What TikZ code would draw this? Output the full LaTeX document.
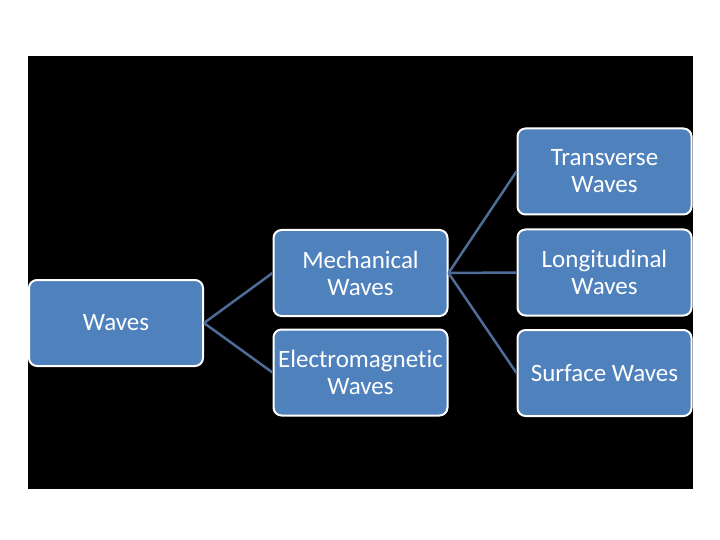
\documentclass[tikz,border=0pt]{standalone}
\usepackage{fontspec}
\setmainfont{Carlito}[Ligatures={NoCommon}]
\usetikzlibrary{positioning}
\definecolor{boxblue}{RGB}{79,129,189}
\definecolor{linkblue}{RGB}{79,108,152}

\begin{document}
\begin{tikzpicture}[x=1pt, y=-1pt,
  item/.style={rectangle, rounded corners=8pt, draw=white, line width=2pt,
               fill=boxblue, text=white, align=center,
               minimum width=174pt, minimum height=86pt, inner sep=1pt,
               font=\fontsize{25}{27}\selectfont},
  link/.style={line width=2.5pt, linkblue}
]
  % page and dark backdrop
  \useasboundingbox (0,0) rectangle (720,540);
  \fill[white] (0,0) rectangle (720,540);
  \fill[black] (28,56) rectangle (693,489);

  % boxes
  \node[item] (waves) at (116, 323)   {Waves};
  \node[item] (mech)  at (360.5, 273) {Mechanical\\Waves};
  \node[item] (em)    at (360.5, 372.5) {Electromagnetic\\Waves};
  \node[item] (trans) at (604.5, 171.5) {Transverse\\Waves};
  \node[item] (long)  at (604.5, 272.5) {Longitudinal\\Waves};
  \node[item] (surf)  at (604.5, 373) {Surface Waves};

  % connectors
  \draw[link] (waves.east) -- (mech.west);
  \draw[link] (waves.east) -- (em.west);
  \foreach \t in {trans, long, surf}
    \draw[link] (mech.east) -- (\t.west);
\end{tikzpicture}
\end{document}
